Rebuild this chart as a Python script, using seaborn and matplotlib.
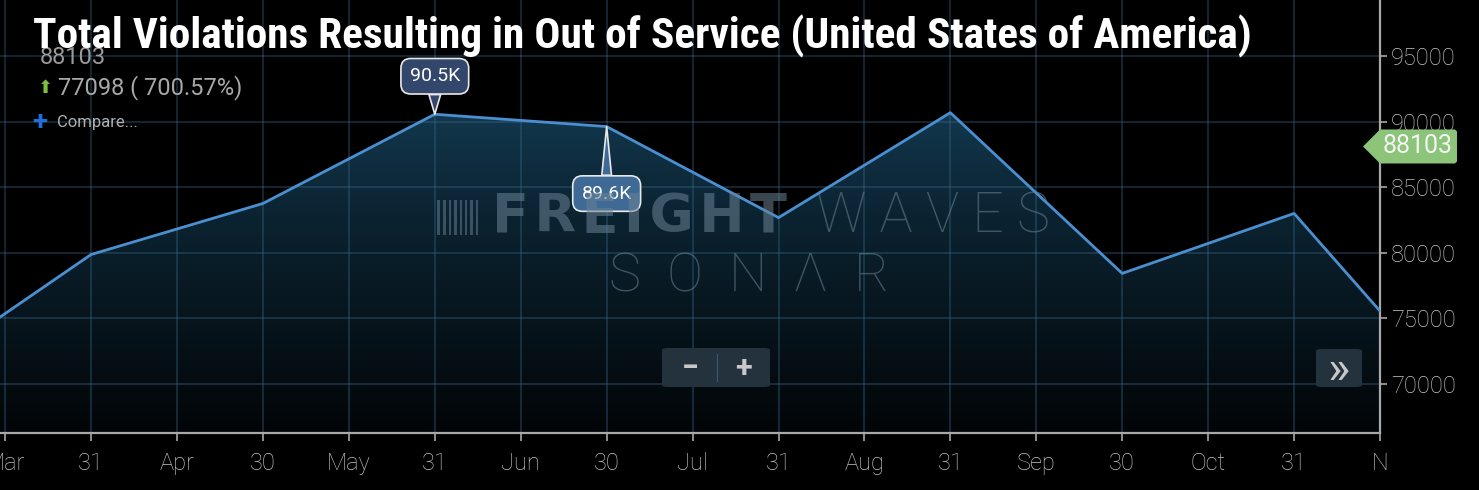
import numpy as np
import pandas as pd
import seaborn as sns
import matplotlib.pyplot as plt
from matplotlib.colors import LinearSegmentedColormap
from matplotlib.patches import FancyBboxPatch, Rectangle, Polygon

# tick labels along the ordinal x axis
tick_labels = ['Mar', '31', 'Apr', '30', 'May', '31', 'Jun', '30', 'Jul',
               '31', 'Aug', '31', 'Sep', '30', 'Oct', '31', 'N']
# position of each value on that axis (edges are clipped segments)
point_pos = [-0.06, 1, 3, 5, 7, 9, 11, 13, 15, 16]
point_val = [75100, 79870, 83760, 90560, 89620, 82680, 90680, 78430, 83000, 75560]
y_ticks = [70000, 75000, 80000, 85000, 90000, 95000]
last_value = 88103

W, H = 1479, 490
sns.set_theme(style='dark')
plt.rcParams['font.family'] = ['Roboto', 'DejaVu Sans']

fig = plt.figure(figsize=(W / 100, H / 100), dpi=100, facecolor='black')
ax = fig.add_axes([0, 1 - 433 / H, 1380 / W, 433 / H])
ax.set_facecolor('black')

x0, x1 = -0.06, 16
y0, y1 = 66265, 99268
ax.set_xlim(x0, x1)
ax.set_ylim(y0, y1)

df = pd.DataFrame({'pos': point_pos, 'val': point_val})

# gradient area under the line
cmap = LinearSegmentedColormap.from_list('fill', ['#020507', '#0b2331', '#1b4d6b'])
grad = np.linspace(0, 1, 256).reshape(-1, 1)
img = ax.imshow(grad, cmap=cmap, origin='lower', aspect='auto',
                extent=[x0, x1, y0, y1], zorder=1)
area = ax.fill_between(df['pos'], df['val'], y0, color='none', zorder=1)
img.set_clip_path(area.get_paths()[0], transform=ax.transData)

sns.lineplot(data=df, x='pos', y='val', ax=ax, color='#4a90d0',
             linewidth=2.0, zorder=4)

# grid
ax.set_xticks(range(len(tick_labels)))
ax.set_xticklabels(tick_labels)
ax.set_yticks(y_ticks)
ax.yaxis.tick_right()
for xi in range(len(tick_labels)):
    ax.axvline(xi, color='#3a6a8a', alpha=0.45, lw=1.1, zorder=2)
for yv in y_ticks:
    ax.axhline(yv, color='#3a6a8a', alpha=0.45, lw=1.1, zorder=2)
ax.grid(False)

for s in ['top', 'left']:
    ax.spines[s].set_visible(False)
for s in ['right', 'bottom']:
    ax.spines[s].set_color('#a8a8a8')
    ax.spines[s].set_linewidth(1.6)
ax.tick_params(axis='x', colors='#a8a8a8', length=6, width=1.2, pad=8,
               labelsize=17, labelcolor='#c4c4c4', bottom=True)
ax.tick_params(axis='y', colors='#a8a8a8', length=5, width=1.2, pad=3,
               labelsize=17, labelcolor='#c4c4c4', right=True, left=False)
ax.set_xlabel('')
ax.set_ylabel('')
for lab in ax.get_xticklabels() + ax.get_yticklabels():
    lab.set_fontweight('light')

# callouts
ax.annotate('90.5K', xy=(5, 90560), xytext=(0, 38), textcoords='offset pixels',
            ha='center', va='center', color='white', fontsize=14, zorder=8,
            bbox=dict(boxstyle='round,pad=0.45,rounding_size=0.5', fc='#33466b',
                      ec='#e8e8e8', lw=1.2),
            arrowprops=dict(arrowstyle='wedge,tail_width=0.6', fc='#33466b',
                            ec='#e8e8e8', lw=1.2, shrinkA=0, shrinkB=0))
ax.annotate('89.6K', xy=(7, 89620), xytext=(0, -67), textcoords='offset pixels',
            ha='center', va='center', color='white', fontsize=14, zorder=8,
            bbox=dict(boxstyle='round,pad=0.45,rounding_size=0.5', fc='#3f6a96',
                      ec='#e8e8e8', lw=1.2),
            arrowprops=dict(arrowstyle='wedge,tail_width=0.5', fc='#3f6a96',
                            ec='#e8e8e8', lw=1.2, shrinkA=0, shrinkB=0))

# last value tag on the right axis
fig.canvas.draw()
tx, ty = ax.transData.transform((x1, last_value))
tag = [(tx - 17, ty), (tx, ty + 17), (tx + 75, ty + 17), (tx + 77, ty + 15),
       (tx + 77, ty - 15), (tx + 75, ty - 17), (tx, ty - 17)]
fig.add_artist(Polygon([(px / W, py / H) for px, py in tag], closed=True,
                       transform=fig.transFigure, fc='#8cc47a', ec='none',
                       zorder=9))
fig.text((tx + 38) / W, ty / H, str(last_value), color='#f4f4f4', fontsize=18,
         ha='center', va='center', zorder=10)

# watermark
wm = '#6a8294'
fig.text(492 / W, 1 - 217 / H, 'F\u200aR\u200aE\u200aI\u200aG\u200aH\u200aT',
         color=wm, alpha=0.55, fontsize=39, fontweight='bold', va='center',
         ha='left', zorder=3, family=['DejaVu Sans'])
fig.text(1050 / W, 1 - 217 / H, 'W A V E S', color=wm, alpha=0.55, fontsize=40,
         fontweight='light', va='center', ha='right', zorder=3)
fig.text(749 / W, 1 - 277 / H, 'S  O  N  Λ  R', color=wm, alpha=0.55, fontsize=39,
         fontweight='light', va='center', ha='center', zorder=3)
bar_w = [3, 3, 2, 3, 2, 2, 3, 2]
bx = 437
for bw in bar_w:
    fig.add_artist(Rectangle((bx / W, 1 - 235 / H), bw / W, 35 / H,
                             transform=fig.transFigure, color=wm, alpha=0.5,
                             lw=0, zorder=3))
    bx += bw + 3

# zoom controls
fig.add_artist(FancyBboxPatch((662 / W, 1 - 387 / H), 108 / W, 39 / H,
                              boxstyle='round,pad=0,rounding_size=0.004',
                              transform=fig.transFigure, fc='#24323e', ec='none',
                              zorder=9))
fig.text(690 / W, 1 - 368 / H, '−', color='#c8c8c8', fontsize=22,
         fontweight='bold', ha='center', va='center', zorder=10)
fig.text(744 / W, 1 - 368 / H, '+', color='#c8c8c8', fontsize=22,
         fontweight='bold', ha='center', va='center', zorder=10)
fig.add_artist(Rectangle((717 / W, 1 - 382 / H), 1 / W, 28 / H,
                         transform=fig.transFigure, color='#3b5a70', lw=0,
                         zorder=10))
fig.add_artist(FancyBboxPatch((1316 / W, 1 - 387 / H), 46 / W, 38 / H,
                              boxstyle='round,pad=0,rounding_size=0.004',
                              transform=fig.transFigure, fc='#24323e', ec='none',
                              zorder=9))
fig.text(1339 / W, 1 - 370 / H, '»', color='#c8c8c8', fontsize=34,
         ha='center', va='center', zorder=10)

# header
fig.text(40 / W, 1 - 58 / H, '88103', color='#9a9a9a', fontsize=17,
         ha='left', va='center')
fig.text(38 / W, 1 - 88 / H, '⬆', color='#7cc240', fontsize=13,
         ha='left', va='center', family=['DejaVu Sans'])
fig.text(58 / W, 1 - 88 / H, '77098 ( 700.57%)', color='#a8a8a8', fontsize=17,
         ha='left', va='center')
fig.text(32 / W, 1 - 122 / H, '+', color='#1e6fd9', fontsize=20,
         fontweight='bold', ha='left', va='center')
fig.text(57 / W, 1 - 122 / H, 'Compare...', color='#b0b0b0', fontsize=12,
         ha='left', va='center')

title = fig.text(33 / W, 1 - 32 / H,
                 'Total Violations Resulting in Out of Service (United States of America)',
                 color='white', fontsize=30, fontweight='bold', ha='left', va='baseline',
                 family=['Roboto Condensed', 'Liberation Sans Narrow', 'Roboto'],
                 fontstretch='condensed')
# fit the title to the width and place it where it sits in the source
fig.canvas.draw()
ext = title.get_window_extent()
title.set_fontsize(30 * 1222 / ext.width)
fig.canvas.draw()
ext = title.get_window_extent()
title.set_position((33 / W - (ext.x0 - 33) / W, 1 - 48 / H))

fig.savefig('out.png', dpi=100, facecolor='black')
